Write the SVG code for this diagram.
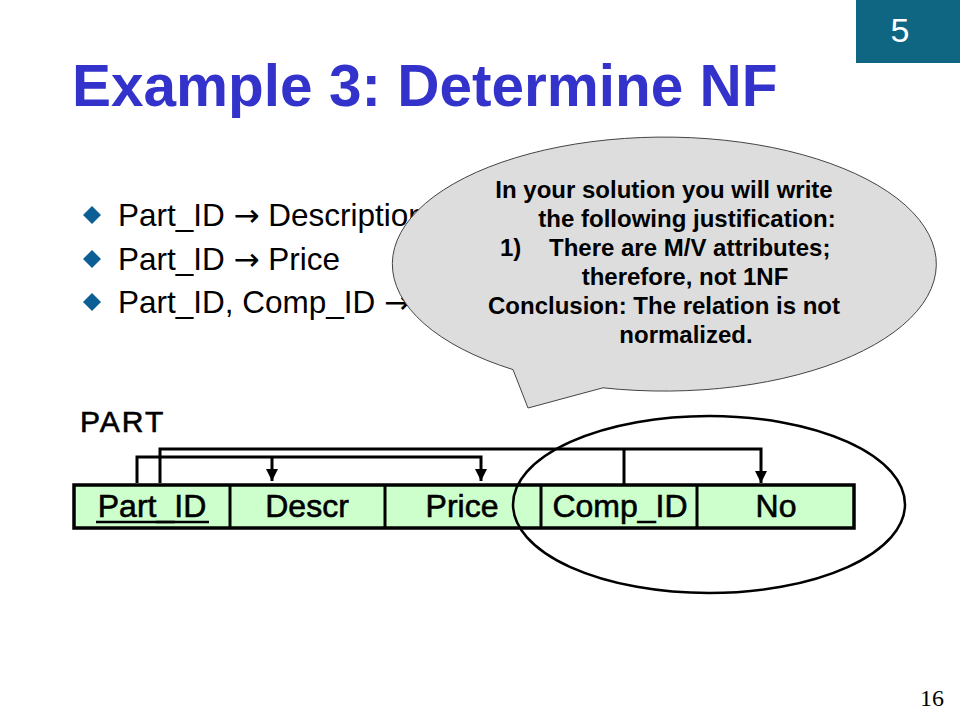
<svg xmlns="http://www.w3.org/2000/svg" width="960" height="720" viewBox="0 0 960 720">
<defs>
<style>
.sans{font-family:"Liberation Sans",Arial,sans-serif}
.cell{font-family:"Liberation Sans",Arial,sans-serif;font-size:32px;fill:#000;stroke:#000;stroke-width:0.6;text-anchor:middle}
.bul{font-family:"Liberation Sans",Arial,sans-serif;font-size:31.5px;fill:#000}
.arr{font-family:"DejaVu Sans",sans-serif;font-size:31px}
.call{font-family:"Liberation Sans",Arial,sans-serif;font-size:24px;font-weight:bold;fill:#000}
.conn{fill:none;stroke:#000;stroke-width:3}
.dia{fill:#0B5F95}
</style>
<marker id="ah" viewBox="0 0 10 10" refX="10" refY="5" markerWidth="4" markerHeight="4" orient="auto" markerUnits="strokeWidth">
<path d="M0,0 L10,5 L0,10 Z" fill="#000"/>
</marker>
</defs>
<rect width="960" height="720" fill="#fff"/>
<g id="slide-number">
<rect x="856" y="0" width="104" height="63" fill="#0E6683"/>
<text x="900" y="42" class="sans" font-size="34" fill="#fff" text-anchor="middle">5</text>
</g>
<g id="title">
<text x="72" y="106" class="sans" font-size="58.5" font-weight="bold" fill="#3333CC">Example 3: Determine NF</text>
</g>
<g id="bullets">
<path class="dia" d="M92,206 L101,215 L92,224 L83,215 Z"/>
<text x="118" y="226" class="bul">Part_ID <tspan class="arr">→</tspan> Description</text>
<path class="dia" d="M92,250 L101,259 L92,268 L83,259 Z"/>
<text x="118" y="270" class="bul">Part_ID <tspan class="arr">→</tspan> Price</text>
<path class="dia" d="M92,293 L101,302 L92,311 L83,302 Z"/>
<text x="118" y="313" class="bul">Part_ID, Comp_ID <tspan class="arr">→</tspan></text>
</g>
<g id="callout">
<path d="M513,369.6 L528,408 L603,387.8 A272,127 0 1 0 513,369.6 Z" fill="#DDDDDD" stroke="#444" stroke-width="1"/>
<text x="664" y="198" class="call" text-anchor="middle">In your solution you will write</text>
<text x="687" y="227" class="call" text-anchor="middle">the following justification:</text>
<text x="500" y="256" class="call">1)</text>
<text x="549" y="256" class="call">There are M/V attributes;</text>
<text x="685" y="285" class="call" text-anchor="middle">therefore, not 1NF</text>
<text x="664" y="314" class="call" text-anchor="middle">Conclusion: The relation is not</text>
<text x="686" y="343" class="call" text-anchor="middle">normalized.</text>
</g>
<g id="part-label">
<text x="80" y="432" class="sans" font-size="30" fill="#000" stroke="#000" stroke-width="0.6" letter-spacing="2">PART</text>
</g>
<g id="table">
<rect x="74" y="485" width="780" height="43" fill="#CCFFCC" stroke="#000" stroke-width="3.5"/>
<line x1="230" y1="485" x2="230" y2="528" stroke="#000" stroke-width="3"/>
<line x1="385" y1="485" x2="385" y2="528" stroke="#000" stroke-width="3"/>
<line x1="541" y1="485" x2="541" y2="528" stroke="#000" stroke-width="3"/>
<line x1="697" y1="485" x2="697" y2="528" stroke="#000" stroke-width="3"/>
<g id="Part_ID"><text x="152" y="517" class="cell">Part_ID</text><line x1="96" y1="522" x2="209" y2="522" stroke="#000" stroke-width="2.5"/></g>
<g id="Descr"><text x="307" y="517" class="cell">Descr</text></g>
<g id="Price"><text x="462" y="517" class="cell">Price</text></g>
<g id="Comp_ID"><text x="620" y="517" class="cell">Comp_ID</text></g>
<g id="No"><text x="776" y="517" class="cell">No</text></g>
</g>
<g id="connectors">
<path class="conn" d="M137,483 V457 H481 V481" marker-end="url(#ah)"/>
<path class="conn" d="M272,457 V481" marker-end="url(#ah)"/>
<path class="conn" d="M160,483 V449 H761 V483" marker-end="url(#ah)"/>
<path class="conn" d="M624,449 V484"/>
</g>
<g id="group-ellipse">
<ellipse cx="709" cy="504.5" rx="196" ry="88.5" fill="none" stroke="#000" stroke-width="2.5"/>
</g>
<g id="page-number">
<text x="944" y="706" font-family="Liberation Serif,serif" font-size="24" fill="#000" text-anchor="end">16</text>
</g>
</svg>
